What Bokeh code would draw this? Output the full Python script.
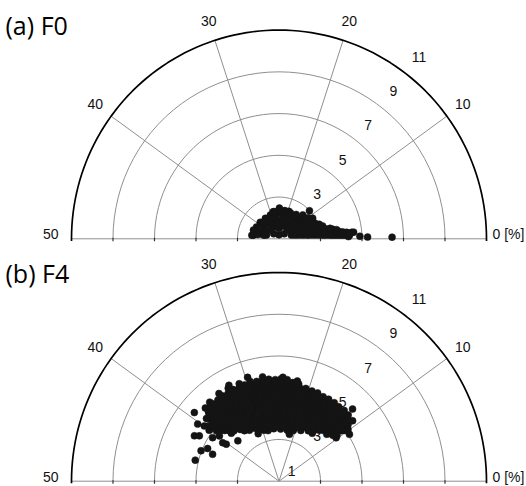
import math
from bokeh.plotting import figure
from bokeh.models import Range1d, ColumnDataSource
from bokeh.embed import file_html
from bokeh.resources import INLINE
from bokeh.core.properties import value

# ---------------- data ----------------
panel_titles = ["(a) F0", "(b) F4"]
angle_ticks = [10, 20, 30, 40]          # % labels around the arc
end_labels = ["0 [%]", "50"]
ring_values = [2, 4, 6, 8, 10]
ring_labels = [1, 3, 5, 7, 9, 11]
full_scale = 50                           # % that spans 180 degrees

f0_pct = [25.0, 12.0, 38.0, 25.0,
          4.8, 13.3, 20.7, 29.4, 36.8, 45.2,
          3.2, 8.6, 13.7, 19.2, 24.5, 29.6, 35.1, 40.2, 45.7,
          2.4, 6.6, 10.4, 14.6, 18.4, 22.6, 26.4, 30.6, 34.4, 38.6, 42.4, 46.5, 47.8, 44.8, 47.9, 46.0,
          2.0, 5.3, 8.6, 11.9, 15.2, 19.5, 21.8, 24.8, 28.5,
          1.7, 4.4, 7.1, 9.8, 11.8,
          1.4, 3.5, 5.5,
          1.2, 3.2,
          1.05, 2.8,
          0.95, 1.9,
          0.9, 1.5, 0.5,
          1.41, 1.4, 0.3, 0.23,
          3.8, 9.2, 16.8, 25.2, 33.1, 41.0, 46.2,
          2.8, 5.8, 10.9, 16.3, 21.5, 27.7, 32.8, 37.4, 41.9, 46.8,
          2.2, 4.3, 7.8, 11.3, 14.8, 18.3, 21.8, 25.3, 28.0,
          1.8, 4.7, 7.6, 10.5, 12.5,
          1.5, 3.9, 6.4, 8.7,
          1.25, 2.5, 4.5,
          1.1, 2.1, 3.2,
          1.0, 1.9, 2.5,
          0.9, 1.7,
          0.8, 1.2, 0.5]
f0_mag = [0.2, 0.35, 0.35, 0.5,
          0.62, 0.58, 0.64, 0.6, 0.57, 0.63,
          0.9, 0.93, 0.88, 0.92, 0.9, 0.87, 0.91, 0.89, 0.92,
          1.2, 1.18, 1.23, 1.2, 1.17, 1.22, 1.19, 1.21, 1.18, 1.2, 1.22, 1.19, 1.25, 1.3, 1.32, 0.72,
          1.45, 1.47, 1.44, 1.46, 1.43, 1.4, 1.38, 1.47, 1.32,
          1.75, 1.76, 1.73, 1.74, 1.99,
          2.05, 2.04, 2.06,
          2.35, 2.33,
          2.65, 2.63,
          2.95, 2.93,
          3.2, 3.28, 3.35,
          3.61, 3.52, 4.27, 5.45,
          0.76, 0.74, 0.77, 0.73, 0.76, 0.74, 0.76,
          1.05, 1.04, 1.06, 1.05, 1.03, 1.06, 1.04, 1.05, 1.06, 1.05,
          1.35, 1.34, 1.36, 1.35, 1.33, 1.36, 1.34, 1.35, 1.33,
          1.6, 1.61, 1.59, 1.6, 1.62,
          1.9, 1.91, 1.89, 1.9,
          2.2, 2.21, 2.19,
          2.5, 2.49, 2.51,
          2.8, 2.79, 2.81,
          3.1, 3.09,
          3.4, 3.42, 3.9]

f4_pct = [20.6, 22.4, 24.5, 26.6, 28.4, 29.6,
          18.5, 20.3, 22.1, 23.9, 25.7, 27.5, 29.3, 31.1,
          16.6, 18.3, 19.9, 21.5, 23.3, 25.1, 26.8, 28.3, 30.2, 31.9, 33.4,
          15.4, 17.0, 18.6, 20.2, 21.8, 23.4, 25.0, 26.6, 28.2, 29.8, 31.4, 33.0, 34.6,
          14.3, 15.8, 17.2, 18.8, 20.1, 21.7, 23.2, 24.8, 26.2, 27.8, 29.2, 30.7, 32.3, 33.7, 35.3,
          13.4, 14.9, 16.4, 17.8, 19.3, 20.8, 22.2, 23.7, 25.2, 26.7, 28.1, 29.6, 31.1, 32.5, 34.0, 35.5, 36.7,
          12.7, 14.1, 15.4, 16.9, 18.2, 19.6, 21.1, 22.4, 23.8, 25.3, 26.6, 28.1, 29.4, 30.9, 32.2, 33.6, 35.1, 36.4, 37.4,
          11.9, 13.3, 14.6, 16.0, 17.3, 18.7, 20.0, 21.4, 22.7, 24.1, 25.4, 26.8, 28.1, 29.5, 30.8, 32.2, 33.5, 34.9, 36.2, 37.6, 38.1,
          11.4, 12.6, 13.9, 15.3, 16.5, 17.8, 19.1, 20.5, 21.7, 23.0, 24.3, 25.6, 26.9, 28.2, 29.5, 30.8, 32.1, 33.4, 34.7, 36.0, 37.3, 38.6,
          10.8, 12.0, 13.3, 14.5, 15.8, 17.0, 18.2, 19.5, 20.7, 22.0, 23.2, 24.4, 25.7, 26.9, 28.2, 29.4, 30.6, 31.9, 33.1, 34.4, 35.6, 36.8, 38.1, 39.2,
          10.4, 11.5, 12.7, 13.9, 15.1, 16.3, 17.5, 18.7, 19.9, 21.1, 22.3, 23.5, 24.7, 25.9, 27.1, 28.3, 29.5, 30.7, 31.9, 33.1, 34.3, 35.5, 36.7, 37.9, 39.1,
          10.2, 11.3, 12.5, 13.6, 14.8, 15.9, 17.1, 18.2, 19.4, 20.5, 21.7, 22.8, 24.0, 25.1, 26.3, 27.4, 28.6, 29.7, 30.9, 32.0, 33.2, 34.3, 35.5, 36.6, 37.8, 38.9, 40.0,
          10.9, 12.0, 13.1, 14.2, 15.3, 16.4, 17.5, 18.6, 19.7, 20.8, 21.9, 23.0, 24.1, 25.2, 26.3, 27.4, 28.5, 29.6, 30.7, 31.8, 32.9, 34.0, 35.1, 36.2, 37.3, 38.4, 39.4,
          11.5, 12.6, 13.6, 14.7, 15.8, 16.9, 17.9, 19.0, 20.1, 21.1, 22.2, 23.3, 24.4, 25.4, 26.5, 27.6, 28.6, 29.7, 30.8, 31.9, 32.9, 34.0, 35.1, 36.1, 37.2, 38.3,
          12.1, 13.1, 14.2, 15.2, 16.3, 17.3, 18.4, 19.4, 20.5, 21.5, 22.6, 23.6, 24.7, 25.7, 26.8, 27.8, 28.9, 29.9, 31.0, 32.0, 33.1, 34.1, 35.2, 36.2, 37.2, 38.1,
          21.8, 22.8, 23.8, 24.8, 25.8, 26.8, 27.8, 28.8, 29.8, 30.8, 31.8, 32.8, 33.8, 34.8, 35.8, 36.8, 37.7,
          23.7, 24.7, 25.6, 26.6, 27.6, 28.5, 29.5, 30.5, 31.4, 32.4, 33.4, 34.3, 35.3, 36.3, 37.1, 36.5,
          31.2, 33.0, 34.6, 29.5,
          39.2, 40.3, 42.2, 41.8, 39.9, 40.8, 40.5, 40.3, 37.7, 44.1, 43.2, 43.9, 46.1, 39.7, 38.0,
          12.3, 10.9, 9.3, 10.3, 11.3, 11.2, 10.6,
          29.7, 27.5, 24.4, 22.1, 32.7,
          37.5, 31.6, 21.5, 15.3, 12.3,
          37.6, 38.7]
f4_mag = [2.52, 2.47, 2.5, 2.53, 2.48, 2.55,
          2.65, 2.66, 2.64, 2.66, 2.65, 2.63, 2.66, 2.64,
          2.8, 2.84, 2.78, 2.82, 2.79, 2.83, 2.8, 2.77, 2.84, 2.8, 2.83,
          2.95, 2.97, 2.94, 2.96, 2.95, 2.93, 2.96, 2.95, 2.97, 2.94, 2.95, 2.96, 2.94,
          3.12, 3.08, 3.13, 3.1, 3.07, 3.12, 3.09, 3.11, 3.08, 3.13, 3.1, 3.07, 3.12, 3.09, 3.11,
          3.25, 3.27, 3.24, 3.26, 3.25, 3.23, 3.26, 3.25, 3.27, 3.24, 3.25, 3.26, 3.24, 3.25, 3.27, 3.24, 3.25,
          3.4, 3.43, 3.38, 3.42, 3.39, 3.41, 3.43, 3.38, 3.4, 3.42, 3.37, 3.41, 3.4, 3.43, 3.38, 3.41, 3.39, 3.42, 3.4,
          3.55, 3.57, 3.54, 3.56, 3.55, 3.53, 3.56, 3.55, 3.57, 3.54, 3.55, 3.56, 3.54, 3.55, 3.57, 3.54, 3.55, 3.56, 3.54, 3.55, 3.57,
          3.7, 3.73, 3.68, 3.71, 3.69, 3.72, 3.7, 3.68, 3.73, 3.7, 3.71, 3.68, 3.72, 3.69, 3.71, 3.7, 3.73, 3.68, 3.7, 3.72, 3.69, 3.71,
          3.85, 3.87, 3.84, 3.86, 3.85, 3.83, 3.86, 3.85, 3.87, 3.84, 3.85, 3.86, 3.84, 3.85, 3.87, 3.84, 3.85, 3.86, 3.84, 3.85, 3.87, 3.84, 3.85, 3.86,
          4.0, 4.03, 3.98, 4.02, 4.0, 3.97, 4.02, 4.0, 4.03, 3.98, 4.01, 4.0, 4.03, 3.98, 4.02, 4.0, 3.97, 4.02, 4.0, 4.03, 3.98, 4.01, 4.0, 4.02, 3.99,
          4.15, 4.17, 4.14, 4.16, 4.15, 4.13, 4.16, 4.15, 4.17, 4.14, 4.15, 4.16, 4.14, 4.15, 4.17, 4.14, 4.15, 4.16, 4.14, 4.15, 4.17, 4.14, 4.15, 4.16, 4.14, 4.15, 4.16,
          4.3, 4.33, 4.28, 4.31, 4.3, 4.27, 4.32, 4.3, 4.33, 4.28, 4.31, 4.3, 4.32, 4.28, 4.31, 4.3, 4.33, 4.28, 4.31, 4.3, 4.32, 4.28, 4.31, 4.3, 4.33, 4.29, 4.3,
          4.45, 4.47, 4.44, 4.46, 4.45, 4.43, 4.46, 4.45, 4.47, 4.44, 4.45, 4.46, 4.44, 4.45, 4.47, 4.44, 4.45, 4.46, 4.44, 4.45, 4.47, 4.44, 4.45, 4.46, 4.44, 4.45,
          4.6, 4.62, 4.58, 4.61, 4.6, 4.57, 4.62, 4.6, 4.63, 4.58, 4.61, 4.6, 4.62, 4.58, 4.61, 4.6, 4.63, 4.58, 4.61, 4.6, 4.62, 4.58, 4.61, 4.6, 4.62, 4.59,
          4.75, 4.77, 4.74, 4.76, 4.75, 4.73, 4.76, 4.75, 4.77, 4.74, 4.75, 4.76, 4.74, 4.75, 4.77, 4.74, 4.75,
          4.88, 4.9, 4.87, 4.91, 4.88, 4.9, 4.86, 4.9, 4.88, 4.91, 4.87, 4.9, 4.88, 4.9, 4.86, 5.05,
          5.05, 5.08, 5.1, 4.98,
          5.24, 4.78, 4.62, 4.41, 4.47, 3.82, 3.28, 3.1, 2.77, 4.03, 3.78, 3.45, 4.16, 3.6, 4.59,
          4.95, 4.58, 4.07, 3.45, 3.83, 3.4, 3.55,
          5.2, 5.06, 4.98, 4.88, 5.19,
          3.25, 2.49, 2.3, 2.8, 3.22,
          4.99, 4.61]

assert len(f0_pct) == len(f0_mag), (len(f0_pct), len(f0_mag))
assert len(f4_pct) == len(f4_mag), (len(f4_pct), len(f4_mag))

panels = [(f0_pct, f0_mag), (f4_pct, f4_mag)]

# ---------------- layout (pixels) ----------------
W, H = 526, 486
PXX, PXY = 20.75, 20.87          # pixels per magnitude unit
CX = 278.5                        # page x of the pole
CY = [238.3, 480.7]               # page y of each pole
TITLE_X = 5
TITLE_Y = [24.0, 272.5]


def dx(px):
    return (px - CX) / PXX


def dy(py):
    return (CY[0] - py) / PXY


p = figure(width=W, height=H, x_range=Range1d(dx(0), dx(W)),
           y_range=Range1d(dy(H), dy(0)), output_backend="svg",
           toolbar_location=None, x_axis_location=None, y_axis_location=None,
           min_border=0)
p.grid.visible = False
p.outline_line_color = None
p.background_fill_color = "white"
p.border_fill_color = "white"

GRID = "#8f8f8f"
NUM_FONT = value("Liberation Sans")
NUM_SIZE = "14px"
TXT = "#111111"


def ang(pct):
    return math.pi * pct / full_scale


for k, (pct_list, mag_list) in enumerate(panels):
    oy = dy(CY[k])
    outer = ring_values[-1]
    # rings (50-sided like the original radar grid)
    xs, ys = [], []
    for r in ring_values[:-1]:
        xs.append([r * math.cos(ang(i)) for i in range(full_scale + 1)])
        ys.append([oy + r * math.sin(ang(i)) for i in range(full_scale + 1)])
    # spokes
    for t in angle_ticks:
        xs.append([0, outer * math.cos(ang(t))])
        ys.append([oy, oy + outer * math.sin(ang(t))])
    # baseline
    xs.append([-outer, outer])
    ys.append([oy, oy])
    p.multi_line(xs, ys, line_color=GRID, line_width=1)

    # ticks on the baseline
    txs, tys = [], []
    for r in ring_values[:-1]:
        for sgn in (-1, 1):
            txs.append([sgn * r, sgn * r])
            tys.append([oy + 0.05, oy - 0.12])
    p.multi_line(txs, tys, line_color="#333333", line_width=1.2)

    # outer arc
    ox = [outer * math.cos(ang(i / 2)) for i in range(2 * full_scale + 1)]
    oyy = [oy + outer * math.sin(ang(i / 2)) for i in range(2 * full_scale + 1)]
    ox = [outer] + ox + [-outer]
    oyy = [oy - 0.1] + oyy + [oy - 0.1]
    p.line(ox, oyy, line_color="black", line_width=1.7)

    # angle labels
    lab_r = 10.95
    p.text(x=[lab_r * math.cos(ang(t)) for t in angle_ticks],
           y=[oy + lab_r * math.sin(ang(t)) for t in angle_ticks],
           text=[str(t) for t in angle_ticks], text_font=NUM_FONT,
           text_font_size=NUM_SIZE, text_align="center", text_baseline="middle",
           text_color=TXT)
    p.text(x=[outer + 6 / PXX], y=[oy + 4.5 / PXY], text=[end_labels[0]],
           text_font=NUM_FONT, text_font_size=NUM_SIZE, text_align="left",
           text_baseline="middle", text_color=TXT)
    p.text(x=[-outer - 13 / PXX], y=[oy + 4.5 / PXY], text=[end_labels[1]],
           text_font=NUM_FONT, text_font_size=NUM_SIZE, text_align="right",
           text_baseline="middle", text_color=TXT)

    # ring value labels along the ~53 degree direction
    p.text(x=[v * 0.613 for v in ring_labels],
           y=[oy + v * 0.822 - 6.5 / PXY for v in ring_labels],
           text=[str(v) for v in ring_labels], text_font=NUM_FONT,
           text_font_size=NUM_SIZE, text_align="center", text_baseline="middle",
           text_color=TXT)

    # data points
    src = ColumnDataSource(dict(
        x=[m * math.cos(ang(a)) for a, m in zip(pct_list, mag_list)],
        y=[oy + m * math.sin(ang(a)) for a, m in zip(pct_list, mag_list)]))
    p.scatter("x", "y", source=src, size=7, fill_color="#141414",
              line_color="#141414", line_width=0.5)

    # panel title
    p.text(x=[dx(TITLE_X)], y=[dy(TITLE_Y[k])], text=[panel_titles[k]],
           text_font=value("Open Sans"), text_font_size="25px",
           text_align="left", text_baseline="middle", text_color="black")

open("out.html", "w").write(file_html(p, INLINE))
